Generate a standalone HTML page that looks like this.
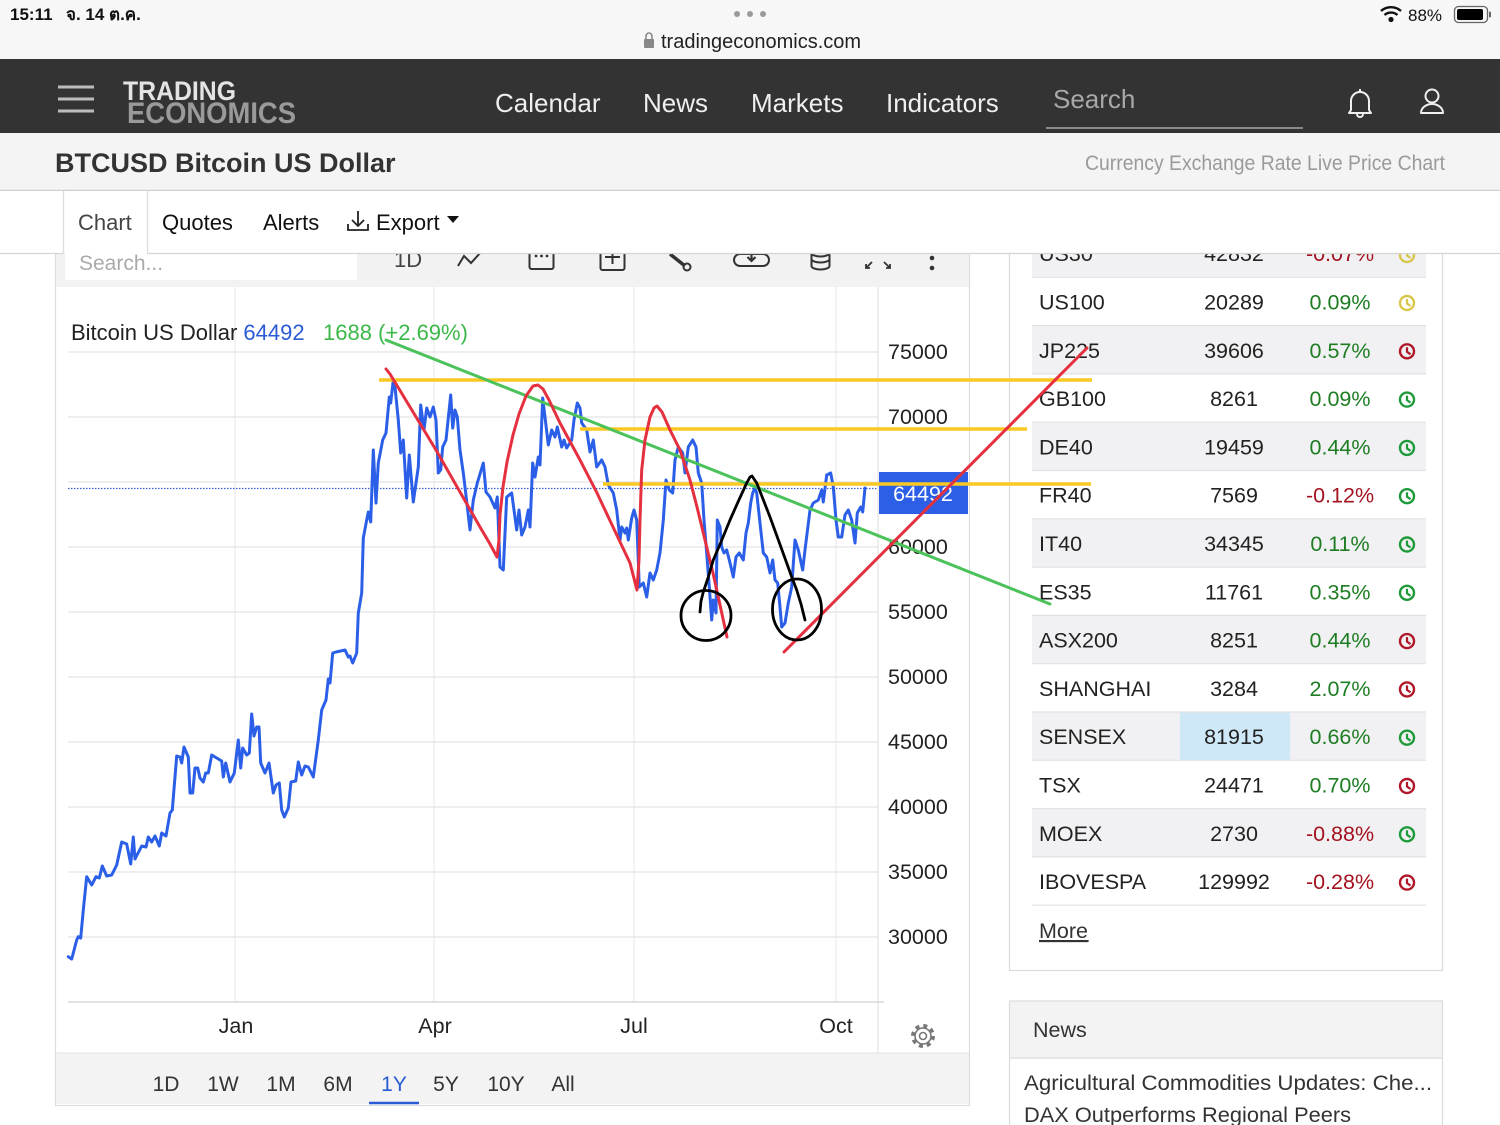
<!DOCTYPE html>
<html><head><meta charset="utf-8"><style>
html,body{margin:0;padding:0;background:#fff;}
svg{display:block;font-family:"Liberation Sans","DejaVu Sans",sans-serif;}
</style></head><body>
<svg width="1500" height="1125" viewBox="0 0 1500 1125" xmlns="http://www.w3.org/2000/svg">
<rect x="0" y="0" width="1500" height="1125" fill="#fff"/>

<!-- status bar -->
<rect x="0" y="0" width="1500" height="60" fill="#f7f7f7"/>
<text x="10" y="20" font-size="17" font-weight="bold" fill="#111">15:11</text>
<text x="66" y="20" font-size="17" font-weight="bold" fill="#111" font-family="'Liberation Sans','DejaVu Sans',sans-serif">จ. 14 ต.ค.</text>
<circle cx="737" cy="14" r="3" fill="#9a9a9a"/><circle cx="750" cy="14" r="3" fill="#9a9a9a"/><circle cx="763" cy="14" r="3" fill="#9a9a9a"/>
<rect x="644" y="39" width="10" height="9" rx="1" fill="#888"/>
<path d="M646,39 V36 a3,3 0 0 1 6,0 V39" fill="none" stroke="#888" stroke-width="1.6"/>
<text x="661" y="48" font-size="20" fill="#222">tradingeconomics.com</text>
<path d="M1381,11 a15,15 0 0 1 20,0" fill="none" stroke="#111" stroke-width="2.4"/>
<path d="M1384.5,15 a10,10 0 0 1 13,0" fill="none" stroke="#111" stroke-width="2.4"/>
<circle cx="1391" cy="19.5" r="2.6" fill="#111"/>
<text x="1408" y="21" font-size="17" fill="#111">88%</text>
<rect x="1454.5" y="6.5" width="33" height="16" rx="4" fill="none" stroke="#666" stroke-width="1.3"/>
<rect x="1457" y="9" width="26" height="11" rx="2" fill="#000"/>
<rect x="1489" y="11.5" width="2" height="6" rx="1" fill="#666"/>

<!-- nav bar -->
<rect x="0" y="59" width="1500" height="74" fill="#333333"/>
<line x1="58" y1="87" x2="94" y2="87" stroke="#bdbdbd" stroke-width="3"/>
<line x1="58" y1="99" x2="94" y2="99" stroke="#bdbdbd" stroke-width="3"/>
<line x1="58" y1="111" x2="94" y2="111" stroke="#bdbdbd" stroke-width="3"/>
<text x="123" y="100" font-size="27" font-weight="bold" fill="#e4e4e4" textLength="113" lengthAdjust="spacingAndGlyphs">TRADING</text>
<text x="127" y="123" font-size="30" font-weight="bold" fill="#9a9a9a" textLength="169" lengthAdjust="spacingAndGlyphs">ECONOMICS</text>
<text x="495" y="112" font-size="26" fill="#efefef">Calendar</text>
<text x="643" y="112" font-size="26" fill="#efefef">News</text>
<text x="751" y="112" font-size="26" fill="#efefef">Markets</text>
<text x="886" y="112" font-size="26" fill="#efefef">Indicators</text>
<text x="1053" y="108" font-size="26" fill="#a8a8a8">Search</text>
<line x1="1046" y1="128" x2="1303" y2="128" stroke="#8a8a8a" stroke-width="2"/>
<path d="M1351,110 V101 a9,9 0 0 1 18,0 V110 l2,3 h-22 z" fill="none" stroke="#f0f0f0" stroke-width="2" stroke-linejoin="round"/>
<path d="M1357,114 a3,3 0 0 0 6,0" fill="none" stroke="#f0f0f0" stroke-width="2"/>
<line x1="1360" y1="89" x2="1360" y2="92" stroke="#f0f0f0" stroke-width="2"/>
<circle cx="1432" cy="96" r="6.5" fill="none" stroke="#f0f0f0" stroke-width="2"/>
<path d="M1421,113 a11,9 0 0 1 22,0 z" fill="none" stroke="#f0f0f0" stroke-width="2" stroke-linejoin="round"/>

<!-- title band -->
<rect x="0" y="133" width="1500" height="57" fill="#f4f4f4"/>
<line x1="0" y1="190.5" x2="1500" y2="190.5" stroke="#cfcfcf" stroke-width="1.5"/>
<text x="55" y="172" font-size="27" font-weight="bold" fill="#333">BTCUSD Bitcoin US Dollar</text>
<text x="1445" y="170" font-size="21" text-anchor="end" fill="#9a9a9a" textLength="360" lengthAdjust="spacingAndGlyphs">Currency Exchange Rate Live Price Chart</text>

<!-- chart panel -->
<rect x="55.5" y="230" width="914" height="875.5" fill="#fff" stroke="#dcdcdc" stroke-width="1.2"/>
<rect x="56" y="230" width="913" height="57" fill="#f2f2f2"/>
<rect x="65" y="230" width="292" height="50" fill="#fff"/>
<text x="79" y="270" font-size="21" fill="#aaa">Search...</text>
<!-- toolbar icons -->
<text x="394" y="267" font-size="22" fill="#444">1D</text>
<polyline points="458,266 464,256 471,263 481,252" fill="none" stroke="#333" stroke-width="2"/>
<rect x="529.5" y="245" width="24" height="24" rx="2" fill="none" stroke="#333" stroke-width="2"/>
<circle cx="536" cy="256" r="1.4" fill="#333"/><circle cx="541.5" cy="256" r="1.4" fill="#333"/><circle cx="547" cy="256" r="1.4" fill="#333"/>
<rect x="600.5" y="245" width="24" height="25" rx="2" fill="none" stroke="#333" stroke-width="2"/>
<line x1="612.5" y1="250" x2="612.5" y2="264" stroke="#333" stroke-width="2"/><line x1="605" y1="257" x2="620" y2="257" stroke="#333" stroke-width="2"/>
<line x1="670" y1="254" x2="685" y2="266" stroke="#333" stroke-width="3.5"/>
<circle cx="687" cy="267" r="3.5" fill="none" stroke="#333" stroke-width="2"/>
<path d="M740,266 h23 a6,6 0 0 0 0,-12 h-23 a6,6 0 0 0 0,12 z" fill="none" stroke="#333" stroke-width="2"/>
<path d="M751.5,253 v8 m-4,-4 l4,4 4,-4" fill="none" stroke="#333" stroke-width="2.2"/>
<ellipse cx="820.5" cy="253" rx="9" ry="3.5" fill="none" stroke="#333" stroke-width="2"/>
<path d="M811.5,253 v13 a9,3.5 0 0 0 18,0 v-13 M811.5,259 a9,3.5 0 0 0 18,0" fill="none" stroke="#333" stroke-width="2"/>
<path d="M872,262 l-6,6 m0,-4 v4 h4 M884,262 l6,6 m0,-4 v4 h-4" fill="none" stroke="#333" stroke-width="1.8"/>
<circle cx="932" cy="258" r="2.3" fill="#333"/><circle cx="932" cy="268" r="2.3" fill="#333"/>

<!-- gridlines -->
<g stroke="#ebebeb" stroke-width="1.2">
<line x1="235" y1="287" x2="235" y2="1002"/>
<line x1="434" y1="287" x2="434" y2="1002"/>
<line x1="634" y1="287" x2="634" y2="1002"/>
<line x1="836" y1="287" x2="836" y2="1002"/>
</g>
<line x1="878" y1="287" x2="878" y2="1053" stroke="#e2e2e2" stroke-width="1.2"/>
<g stroke="#e4e4e4" stroke-width="1.3">
<line x1="68" y1="352" x2="878" y2="352"/>
<line x1="68" y1="417" x2="878" y2="417"/>
<line x1="68" y1="482" x2="878" y2="482"/>
<line x1="68" y1="547" x2="878" y2="547"/>
<line x1="68" y1="612" x2="878" y2="612"/>
<line x1="68" y1="677" x2="878" y2="677"/>
<line x1="68" y1="742" x2="878" y2="742"/>
<line x1="68" y1="807" x2="878" y2="807"/>
<line x1="68" y1="872" x2="878" y2="872"/>
<line x1="68" y1="937" x2="878" y2="937"/>
</g>
<line x1="68" y1="1002" x2="884" y2="1002" stroke="#d8d8d8" stroke-width="1.5"/>

<!-- y labels -->
<g font-size="21.5" fill="#222">
<text x="888" y="359">75000</text>
<text x="888" y="424">70000</text>
<text x="888" y="554">60000</text>
<text x="888" y="619">55000</text>
<text x="888" y="684">50000</text>
<text x="888" y="749">45000</text>
<text x="888" y="814">40000</text>
<text x="888" y="879">35000</text>
<text x="888" y="944">30000</text>
</g>
<!-- x labels -->
<g font-size="21.5" fill="#222" text-anchor="middle">
<text x="236" y="1033">Jan</text>
<text x="435" y="1033">Apr</text>
<text x="634" y="1033">Jul</text>
<text x="836" y="1033">Oct</text>
</g>
<!-- gear -->
<circle cx="923" cy="1036" r="10" fill="none" stroke="#777" stroke-width="4" stroke-dasharray="3.9 3.95"/>
<circle cx="923" cy="1036" r="8" fill="#fff" stroke="#777" stroke-width="1.6"/>
<circle cx="923" cy="1036" r="3.5" fill="none" stroke="#777" stroke-width="1.6"/>

<!-- range bar -->
<rect x="56" y="1053" width="913" height="51" fill="#f3f3f3"/>
<line x1="56" y1="1053" x2="969" y2="1053" stroke="#e2e2e2" stroke-width="1"/>
<g font-size="21" fill="#333" text-anchor="middle">
<text x="166" y="1091">1D</text>
<text x="223" y="1091">1W</text>
<text x="281" y="1091">1M</text>
<text x="338" y="1091">6M</text>
<text x="394" y="1091" fill="#2a5bd7">1Y</text>
<text x="446" y="1091">5Y</text>
<text x="506" y="1091">10Y</text>
<text x="563" y="1091">All</text>
</g>
<line x1="369" y1="1103" x2="419" y2="1103" stroke="#2a5bd7" stroke-width="2.5"/>

<!-- legend -->
<text x="71" y="340" font-size="22" fill="#222">Bitcoin US Dollar <tspan fill="#2a5bd7">64492</tspan></text>
<text x="323" y="340" font-size="22" fill="#3cb84a">1688 (+2.69%)</text>

<!-- dotted current price line -->
<line x1="68" y1="488.5" x2="878" y2="488.5" stroke="#3a5fd8" stroke-width="1.2" stroke-dasharray="1.5 1.5"/>

<!-- blue series -->
<polyline fill="none" stroke="#2b5fe8" stroke-width="3" stroke-linejoin="round" stroke-linecap="round" points="68.3,956.7 71.7,959 73.3,953 76.7,940 78.3,936.7 80.7,938 83.3,910 86.7,876.7 91.7,885 96,876.7 99.3,878 102.3,866 106.7,876 111.7,875 116.7,865 121.7,842 126.7,844 130.7,864 133.3,837 135,859 141.7,846 146,847 148.3,837 151.7,842 155,836 159.3,846 161.7,833 166,836 170,813 172.3,810 176.7,756 180,757 181.7,763 184,747 188.3,757 190,793 192.7,793 195,768 197.7,768 200,778 203.3,782 205.7,773 208.3,773 211.7,755 216.7,758 221.7,761 223.3,777 225.7,763 230,782 234.3,773 238.3,740 240.7,768 242.7,748 246.7,755 249.3,753 251.7,714 254,736 256.7,727 259,727 260.7,763 265,773 269,763 273.3,793 276,785 279.3,783 281.7,810 284.3,817 288.3,808 291,782 295.7,781 298.3,762 301.7,775 305,766 308.3,767 313.3,777 318.3,740 321.7,710 326,700 328.3,679 330,683 332.7,653 336,652 345,650 348.3,657 350,656 352.7,663 356.7,653 358.3,613 361.7,593 363.3,538 366.7,520 368.3,512 370.7,522 373.3,450 376,503 378.3,463 382.7,440 386,433 389.3,397 390.7,403 393.3,380 395,387 398.3,420 400.7,453 403.3,440 406.7,498 409.3,455 413.3,502 418.3,467 420.7,405 424,430 426.7,408 430,417 433.3,407 436,420 438.3,473 440.7,470 442.7,447 446,440 450.7,395 452.7,428 455,410 457.3,417 460,450 463.3,473 465,487 470,530 473.3,500 477.3,483 483.3,463 486,492 490,497 495,508 497.3,497 500,567 503.3,570 506.7,497 511.7,493 516.7,530 519,510 521.7,535 525,527 528.3,510 530,527 532.7,463 535,477 538.3,457 540,465 542.7,398 545,417 548.3,445 551.7,430 555,437 557.3,427 561.7,447 564,440 566.7,448 571.7,440 574,420 577.3,403 580,408 581.7,423 586.7,430 590,452 593.3,440 596.7,467 601.7,460 605,467 608.3,485 613.3,493 616.7,510 620,540 621.7,527 625,533 626.7,528 628.3,540 631.7,518 634,510 636.7,520 639.3,587 643.3,583 646.7,597 650,573 653.3,580 656.7,570 660,553 663.3,520 666,480 669.3,490 672.7,493 675,460 678.3,447 682.7,453 685,473 688.3,447 692.7,440 696,447 698.3,473 701.7,483 704,520 706.7,553 709.3,587 711.7,620 713.3,600 716,613 717.3,520 720,527 721.7,547 724,553 726.7,550 729.3,560 731.7,570 733.3,577 736,557 739.3,553 743.3,560 746,533 748.3,523 750.7,503 752.7,493 755,488 756.7,493 760,523 763.3,553 766.7,557 770,573 772.7,560 775,580 777.7,583 780,607 781.7,627 785,623 788.3,603 791.7,587 795,540 798.3,550 802.7,570 805,550 810,510 813.3,503 818.3,500 821.7,490 823.3,502 826.7,475 830.7,473 833.3,487 836,520 838.3,537 841.7,537 845,515 848.3,510 851.7,520 855,543 857.3,513 860.7,507 862.7,512 865,488"/>

<!-- price box -->
<rect x="879" y="472" width="89" height="42" fill="#2c5fe6"/>
<text x="923" y="501" font-size="21.5" fill="#fff" text-anchor="middle">64492</text>

<!-- right panel -->
<rect x="1009.5" y="220" width="433" height="750.5" fill="#fff" stroke="#dadada" stroke-width="1.2"/>
<g>
<rect x="1032" y="229" width="394" height="48.3" fill="#f1f1f3"/>
<rect x="1032" y="325.6" width="394" height="48.3" fill="#f1f1f3"/>
<rect x="1032" y="422.2" width="394" height="48.3" fill="#f1f1f3"/>
<rect x="1032" y="518.8" width="394" height="48.3" fill="#f1f1f3"/>
<rect x="1032" y="615.4" width="394" height="48.3" fill="#f1f1f3"/>
<rect x="1032" y="712" width="394" height="48.3" fill="#f1f1f3"/>
<rect x="1180" y="712" width="110" height="48.3" fill="#cfe8f8"/>
<rect x="1032" y="808.6" width="394" height="48.3" fill="#f1f1f3"/>
</g>
<g stroke="#e2e2e6" stroke-width="1.2">
<line x1="1032" y1="277.3" x2="1426" y2="277.3"/><line x1="1032" y1="325.6" x2="1426" y2="325.6"/>
<line x1="1032" y1="373.9" x2="1426" y2="373.9"/><line x1="1032" y1="422.2" x2="1426" y2="422.2"/>
<line x1="1032" y1="470.5" x2="1426" y2="470.5"/><line x1="1032" y1="518.8" x2="1426" y2="518.8"/>
<line x1="1032" y1="567.1" x2="1426" y2="567.1"/><line x1="1032" y1="615.4" x2="1426" y2="615.4"/>
<line x1="1032" y1="663.7" x2="1426" y2="663.7"/><line x1="1032" y1="712" x2="1426" y2="712"/>
<line x1="1032" y1="760.3" x2="1426" y2="760.3"/><line x1="1032" y1="808.6" x2="1426" y2="808.6"/>
<line x1="1032" y1="856.9" x2="1426" y2="856.9"/><line x1="1032" y1="905.2" x2="1426" y2="905.2"/>
</g>
<g font-size="21.5" fill="#222">
<text x="1039" y="261">US30</text>
<text x="1039" y="309.5">US100</text>
<text x="1039" y="357.8">JP225</text>
<text x="1039" y="406.1">GB100</text>
<text x="1039" y="454.4">DE40</text>
<text x="1039" y="502.7">FR40</text>
<text x="1039" y="551">IT40</text>
<text x="1039" y="599.3">ES35</text>
<text x="1039" y="647.6">ASX200</text>
<text x="1039" y="695.9">SHANGHAI</text>
<text x="1039" y="744.2">SENSEX</text>
<text x="1039" y="792.5">TSX</text>
<text x="1039" y="840.8">MOEX</text>
<text x="1039" y="889.1">IBOVESPA</text>
</g>
<g font-size="21.5" fill="#222" text-anchor="middle">
<text x="1234" y="261">42832</text>
<text x="1234" y="309.5">20289</text>
<text x="1234" y="357.8">39606</text>
<text x="1234" y="406.1">8261</text>
<text x="1234" y="454.4">19459</text>
<text x="1234" y="502.7">7569</text>
<text x="1234" y="551">34345</text>
<text x="1234" y="599.3">11761</text>
<text x="1234" y="647.6">8251</text>
<text x="1234" y="695.9">3284</text>
<text x="1234" y="744.2">81915</text>
<text x="1234" y="792.5">24471</text>
<text x="1234" y="840.8">2730</text>
<text x="1234" y="889.1">129992</text>
</g>
<g font-size="21.5" text-anchor="middle" fill="#1e7d22">
<text x="1340" y="261" fill="#a3121f">-0.07%</text>
<text x="1340" y="309.5">0.09%</text>
<text x="1340" y="357.8">0.57%</text>
<text x="1340" y="406.1">0.09%</text>
<text x="1340" y="454.4">0.44%</text>
<text x="1340" y="502.7" fill="#a3121f">-0.12%</text>
<text x="1340" y="551">0.11%</text>
<text x="1340" y="599.3">0.35%</text>
<text x="1340" y="647.6">0.44%</text>
<text x="1340" y="695.9">2.07%</text>
<text x="1340" y="744.2">0.66%</text>
<text x="1340" y="792.5">0.70%</text>
<text x="1340" y="840.8" fill="#a3121f">-0.88%</text>
<text x="1340" y="889.1" fill="#a3121f">-0.28%</text>
</g>
<defs>
<g id="clk"><circle cx="0" cy="0" r="7" fill="none" stroke-width="2.4"/><path d="M0,-4 V0.5 L3.5,3" fill="none" stroke-width="2.2"/></g>
</defs>
<g transform="translate(1407,255)" stroke="#d8c64a"><use href="#clk"/></g>
<g transform="translate(1407,303)" stroke="#d8c64a"><use href="#clk"/></g>
<g transform="translate(1407,351.3)" stroke="#b0182a"><use href="#clk"/></g>
<g transform="translate(1407,399.6)" stroke="#1f9a3a"><use href="#clk"/></g>
<g transform="translate(1407,447.9)" stroke="#1f9a3a"><use href="#clk"/></g>
<g transform="translate(1407,496.2)" stroke="#1f9a3a"><use href="#clk"/></g>
<g transform="translate(1407,544.5)" stroke="#1f9a3a"><use href="#clk"/></g>
<g transform="translate(1407,592.8)" stroke="#1f9a3a"><use href="#clk"/></g>
<g transform="translate(1407,641.1)" stroke="#b0182a"><use href="#clk"/></g>
<g transform="translate(1407,689.4)" stroke="#b0182a"><use href="#clk"/></g>
<g transform="translate(1407,737.7)" stroke="#1f9a3a"><use href="#clk"/></g>
<g transform="translate(1407,786)" stroke="#b0182a"><use href="#clk"/></g>
<g transform="translate(1407,834.3)" stroke="#1f9a3a"><use href="#clk"/></g>
<g transform="translate(1407,882.6)" stroke="#b0182a"><use href="#clk"/></g>
<text x="1039" y="938" font-size="21.5" fill="#333" text-decoration="underline">More</text>
<line x1="1039" y1="941" x2="1089" y2="941" stroke="#333" stroke-width="1.3"/>

<!-- news panel -->
<rect x="1009.5" y="1001" width="433" height="140" fill="#fff" stroke="#dadada" stroke-width="1.2"/>
<rect x="1010" y="1001.5" width="432" height="56.5" fill="#f3f3f3"/>
<line x1="1010" y1="1058" x2="1442" y2="1058" stroke="#dadada" stroke-width="1.2"/>
<text x="1033" y="1037" font-size="21.5" fill="#333">News</text>
<text x="1024" y="1090" font-size="21.5" fill="#333" textLength="408" lengthAdjust="spacingAndGlyphs">Agricultural Commodities Updates: Che...</text>
<text x="1024" y="1122" font-size="21.5" fill="#333" textLength="327" lengthAdjust="spacingAndGlyphs">DAX Outperforms Regional Peers</text>

<!-- hand-drawn overlays -->
<g stroke="#fac823" stroke-width="3.5" stroke-linecap="butt">
<line x1="379" y1="380" x2="1092" y2="380"/>
<line x1="580" y1="429" x2="1027" y2="429"/>
<line x1="603" y1="484" x2="1091" y2="484"/>
</g>
<line x1="386" y1="340" x2="1050" y2="604" stroke="#4cc25a" stroke-width="3" stroke-linecap="round"/>
<polyline fill="none" stroke="#e5303f" stroke-width="3" stroke-linejoin="round" stroke-linecap="round" points="386,369 390,374 410,407 436,450 460,492 480,527 490,544 497,557 499,540 500,515 503,487 507,462 513,435 519,414 526,396 533,386 538,385 543,389 549,400 560,423 580,460 597,493 613,527 630,563 637,590 639,560 640,520 641.7,470 645,440 650,417 654,408 657,406 662,412 670,430 680,450 690,480 697,507 705,540 713,573 720,605 727,637"/>
<line x1="784" y1="652" x2="1087" y2="348" stroke="#e5303f" stroke-width="3" stroke-linecap="round"/>
<g fill="none" stroke="#000" stroke-width="2.8" stroke-linecap="round" stroke-linejoin="round">
<polyline points="700,612 701,601 703.3,592 708,578 713.3,560 721,542 730,520 738,502 746.7,483 750,477 752,476 756.7,483 763,499 770,517 778,539 786.7,563 791,575 796.7,590 801,604 805,620"/>
<ellipse cx="706" cy="615.5" rx="25" ry="25"/>
<ellipse cx="797" cy="609.5" rx="24.5" ry="30.5"/>
</g>

<!-- tab row on top -->
<rect x="0" y="191" width="1500" height="62" fill="#fff"/>
<line x1="0" y1="253.5" x2="63.5" y2="253.5" stroke="#d5d5d5" stroke-width="1.3"/>
<line x1="147.5" y1="253.5" x2="1500" y2="253.5" stroke="#d5d5d5" stroke-width="1.3"/>
<line x1="63.5" y1="191" x2="63.5" y2="253.5" stroke="#dcdcdc" stroke-width="1.3"/>
<line x1="147.5" y1="191" x2="147.5" y2="253.5" stroke="#dcdcdc" stroke-width="1.3"/>
<text x="78" y="230" font-size="22" fill="#444">Chart</text>
<text x="162" y="230" font-size="22" fill="#111">Quotes</text>
<text x="263" y="230" font-size="22" fill="#111">Alerts</text>
<path d="M358,211 v15 m-6,-6 l6,6 6,-6 M348,224 v6 h20 v-6" fill="none" stroke="#222" stroke-width="1.8"/>
<text x="376" y="230" font-size="22" fill="#111">Export</text>
<path d="M447,216 h12 l-6,7 z" fill="#111"/>
</svg>
</body></html>
